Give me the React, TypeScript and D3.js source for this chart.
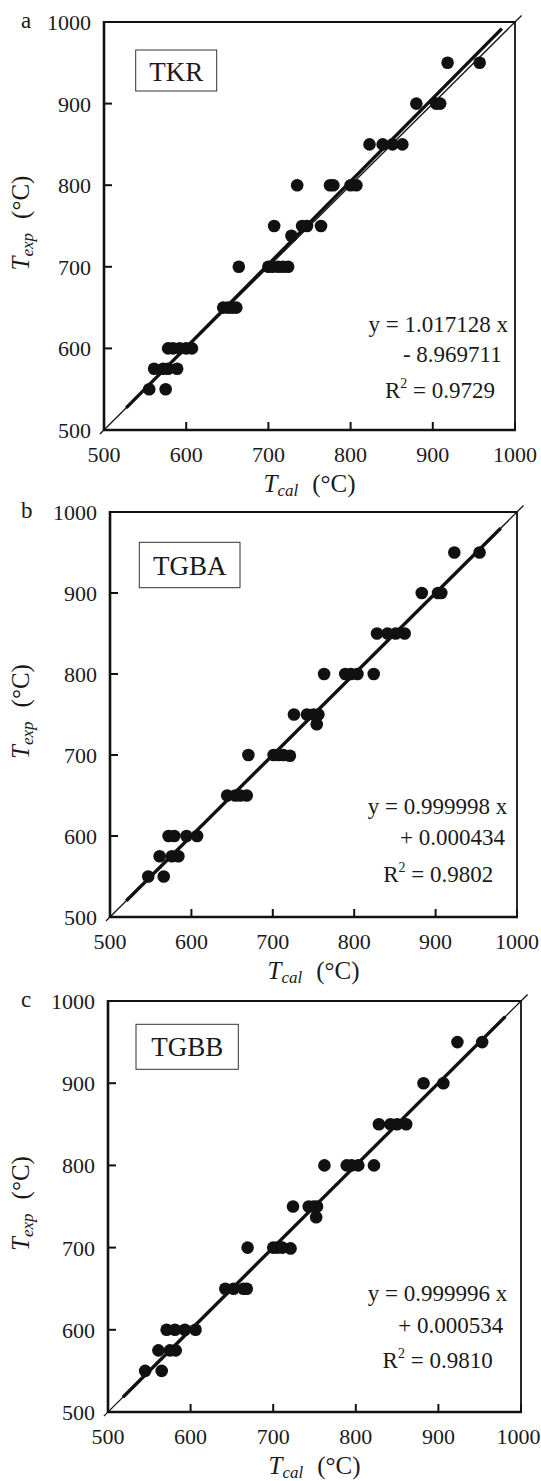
import React from "react";
import * as d3 from "d3";

const panelLetters = ["a", "b", "c"];
const panelNames = ["TKR", "TGBA", "TGBB"];
const tickValues = [500, 600, 700, 800, 900, 1000];

// Panel a (TKR)
const tkrCal = [918, 957, 880, 904, 909, 823, 839, 851, 863, 735, 775, 779, 800, 807, 707, 741, 747, 764, 728, 664, 700, 705, 712, 718, 724, 645, 651, 656, 661, 578, 584, 592, 600, 607, 561, 572, 578, 589, 555, 575];
const tkrExp = [950, 950, 900, 900, 900, 850, 850, 850, 850, 800, 800, 800, 800, 800, 750, 750, 750, 750, 738, 700, 700, 700, 700, 700, 700, 650, 650, 650, 650, 600, 600, 600, 600, 600, 575, 575, 575, 575, 550, 550];
// Panel b (TGBA)
const tgbaCal = [923, 954, 883, 903, 907, 828, 841, 851, 862, 763, 789, 796, 804, 824, 726, 742, 750, 756, 754, 670, 701, 707, 713, 721, 644, 654, 660, 668, 572, 579, 594, 607, 561, 576, 584, 547, 566];
const tgbaExp = [950, 950, 900, 900, 900, 850, 850, 850, 850, 800, 800, 800, 800, 800, 750, 750, 750, 750, 738, 700, 700, 700, 700, 699, 650, 650, 650, 650, 600, 600, 600, 600, 575, 575, 575, 550, 550];
// Panel c (TGBB)
const tgbbCal = [923, 953, 882, 906, 828, 842, 850, 861, 762, 789, 795, 803, 822, 724, 743, 749, 753, 752, 669, 700, 705, 711, 721, 642, 652, 664, 668, 571, 581, 593, 606, 561, 575, 582, 545, 565];
const tgbbExp = [950, 950, 900, 900, 850, 850, 850, 850, 800, 800, 800, 800, 800, 750, 750, 750, 750, 737, 700, 700, 700, 700, 699, 650, 650, 650, 650, 600, 600, 600, 600, 575, 575, 575, 550, 550];

const slopes = [1.017128, 0.999998, 0.999996];
const intercepts = [-8.969711, 0.000434, 0.000534];
const r2Values = ["0.9729", "0.9802", "0.9810"];
const eqLine1 = ["y = 1.017128 x", "y = 0.999998 x", "y = 0.999996 x"];
const eqLine2 = ["- 8.969711", "+ 0.000434", "+ 0.000534"];
const fitStart = [527, 520, 518];
const fitEnd = [984, 980, 981];

const calSeries = [tkrCal, tgbaCal, tgbbCal];
const expSeries = [tkrExp, tgbaExp, tgbbExp];

const layouts = [
  { x0: 104, x1: 515, y0: 22, y1: 430, box: [135.7, 50, 81, 41, 81], eqX: [-7, -13.3, -20], eqY: [98.3, 67.7, 31.7] },
  { x0: 110, x1: 517, y0: 512, y1: 917, box: [139.3, 542.3, 100.7, 45.4, 575], eqX: [-9.7, -12, -23.7], eqY: [103, 72, 35.3] },
  { x0: 108, x1: 521, y0: 1001, y1: 1412, box: [136, 1024.3, 102.3, 45, 1056], eqX: [-13.7, -17.7, -28.3], eqY: [111, 79, 44] },
];

const FONT = "'Liberation Serif', 'Times New Roman', serif";
const INK = "#1a1a1a";

function Panel({ i }: { i: number }) {
  const L = layouts[i];
  const x = d3.scaleLinear().domain([500, 1000]).range([L.x0, L.x1]);
  const y = d3.scaleLinear().domain([500, 1000]).range([L.y1, L.y0]);
  const cal = calSeries[i];
  const exp = expSeries[i];
  const fit = (v: number) => slopes[i] * v + intercepts[i];
  const line = d3.line<[number, number]>().x((d) => x(d[0])).y((d) => y(d[1]));
  const oneToOne = line([[495, 495], [1008, 1008]]) || "";
  const fitPath = line([[fitStart[i], fit(fitStart[i])], [fitEnd[i], fit(fitEnd[i])]]) || "";
  const [bx, by, bw, bh, bBase] = L.box;
  const cx = (L.x0 + L.x1) / 2;
  const cy = (L.y0 + L.y1) / 2 - 3;
  return (
    <g fontFamily={FONT} fill={INK}>
      {cal.map((c, k) => (
        <circle key={k} cx={x(c)} cy={y(exp[k])} r={6.3} fill="#111" />
      ))}
      <path d={oneToOne} stroke="#111" strokeWidth={1.3} fill="none" />
      <path d={fitPath} stroke="#111" strokeWidth={3.4} fill="none" />
      <line x1={L.x0} x2={L.x1} y1={L.y0} y2={L.y0} stroke="#111" strokeWidth={1.8} />
      <line x1={L.x1} x2={L.x1} y1={L.y0} y2={L.y1} stroke="#111" strokeWidth={1.8} />
      <line x1={L.x0} x2={L.x1 + 1} y1={L.y1} y2={L.y1} stroke="#111" strokeWidth={2.6} />
      <line x1={L.x0} x2={L.x0} y1={L.y0 - 1} y2={L.y1 + 1} stroke="#111" strokeWidth={2.6} />
      {tickValues.map((t) => (
        <g key={"t" + t}>
          <line x1={x(t)} x2={x(t)} y1={L.y1} y2={L.y1 - 8} stroke="#111" strokeWidth={2} />
          <line x1={L.x0} x2={L.x0 + 8} y1={y(t)} y2={y(t)} stroke="#111" strokeWidth={2} />
          <text x={Math.min(x(t), 518.5)} y={L.y1 + 32} fontSize={22} textAnchor="middle">{t}</text>
          <text x={L.x0 - 13} y={y(t) + 8} fontSize={22} textAnchor="end">{t}</text>
        </g>
      ))}
      <text x={21} y={L.y0 + 6} fontSize={23}>{panelLetters[i]}</text>
      <rect x={bx} y={by} width={bw} height={bh} fill="#fff" stroke="#333" strokeWidth={1} />
      <text x={bx + bw / 2} y={bBase} fontSize={27} textAnchor="middle">{panelNames[i]}</text>
      <text x={L.x1 + L.eqX[0]} y={L.y1 - L.eqY[0]} fontSize={23} textAnchor="end">{eqLine1[i]}</text>
      <text x={L.x1 + L.eqX[1]} y={L.y1 - L.eqY[1]} fontSize={23} textAnchor="end">{eqLine2[i]}</text>
      <text x={L.x1 + L.eqX[2]} y={L.y1 - L.eqY[2]} fontSize={23} textAnchor="end">
        R<tspan fontSize={14} dy={-10}>2</tspan><tspan dy={10}>{" = " + r2Values[i]}</tspan>
      </text>
      <text x={cx} y={L.y1 + 62} fontSize={25} textAnchor="middle">
        <tspan fontStyle="italic">T</tspan>
        <tspan fontStyle="italic" fontSize={17} dy={4}>cal</tspan>
        <tspan dy={-4} dx={14}>(°C)</tspan>
      </text>
      <text transform={`translate(29,${cy}) rotate(-90)`} fontSize={25} textAnchor="middle">
        <tspan fontStyle="italic">T</tspan>
        <tspan fontStyle="italic" fontSize={17} dy={4}>exp</tspan>
        <tspan dy={-4} dx={14}>(°C)</tspan>
      </text>
    </g>
  );
}

export default function App() {
  return (
    <svg
      width={541}
      height={1481}
      style={{ position: "absolute", left: 0, top: 0, background: "#fff" }}
    >
      <rect width={541} height={1481} fill="#fff" />
      {[0, 1, 2].map((i) => (
        <Panel key={i} i={i} />
      ))}
    </svg>
  );
}
